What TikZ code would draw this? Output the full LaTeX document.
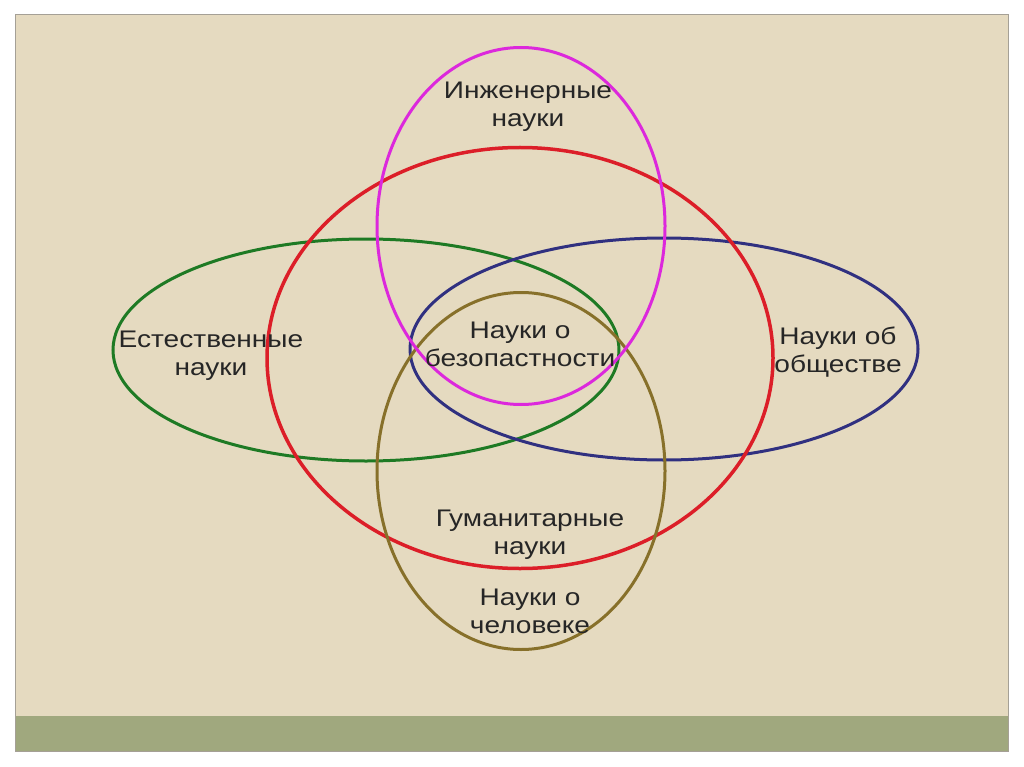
\documentclass[tikz,border=0pt]{standalone}
\usepackage{fontspec}
\setmainfont{Liberation Sans}[FakeStretch=1.17]
\usetikzlibrary{shapes.geometric, positioning}
\definecolor{slidebg}{RGB}{229,218,192}
\definecolor{slideband}{RGB}{160,168,126}
\definecolor{slideedge}{RGB}{165,160,150}
\definecolor{cnat}{RGB}{30,122,36}
\definecolor{csoc}{RGB}{48,48,128}
\definecolor{chum}{RGB}{220,30,40}
\definecolor{ceng}{RGB}{220,40,220}
\definecolor{cman}{RGB}{135,112,42}
\definecolor{labeltext}{RGB}{38,38,38}
\tikzset{
    ring/.style={
        ellipse,
        draw=#1,
        line width=3pt,
        inner sep=0pt,
        outer sep=0pt
    },
    lbl/.style={
        align=center,
        text=labeltext,
        inner sep=0pt,
        font=\fontsize{24}{28}\selectfont
    }
}

\begin{document}
\begin{tikzpicture}[x=1pt, y=-1pt]
\useasboundingbox[fill=white] (0,0) rectangle (1024,767);
\fill[slidebg] (15,15) rectangle (1008,716);
\fill[slideband] (15,716) rectangle (1008,751);
\draw[slideedge, line width=1pt] (15,15) rectangle (1008,751);

\node[ring=cnat, minimum width=506, minimum height=222] (nat) at (366,350) {};
\node[ring=csoc, minimum width=508, minimum height=222] (soc) at (664,349) {};
\node[ring=chum, minimum width=506, minimum height=421, line width=3.5pt] (hum) at (520,358) {};
\node[ring=cman, minimum width=288, minimum height=357] (man) at (521,471) {};
\node[ring=ceng, minimum width=288, minimum height=357] (eng) at (521,226) {};

\node[lbl] (engtxt)  at (528,107) {Инженерные\\науки};
\node[lbl] (nattxt)  at (211,356) {Естественные\\науки};
\node[lbl] (safetxt) at (520,344) {Науки о\\безопастности};
\node[lbl] (soctxt)  at (838,352) {Науки об\\обществе};
\node[lbl] (humtxt)  at (530,535) {Гуманитарные\\науки};
\node[lbl] (mantxt)  at (530,611) {Науки о\\человеке};
\end{tikzpicture}
\end{document}
